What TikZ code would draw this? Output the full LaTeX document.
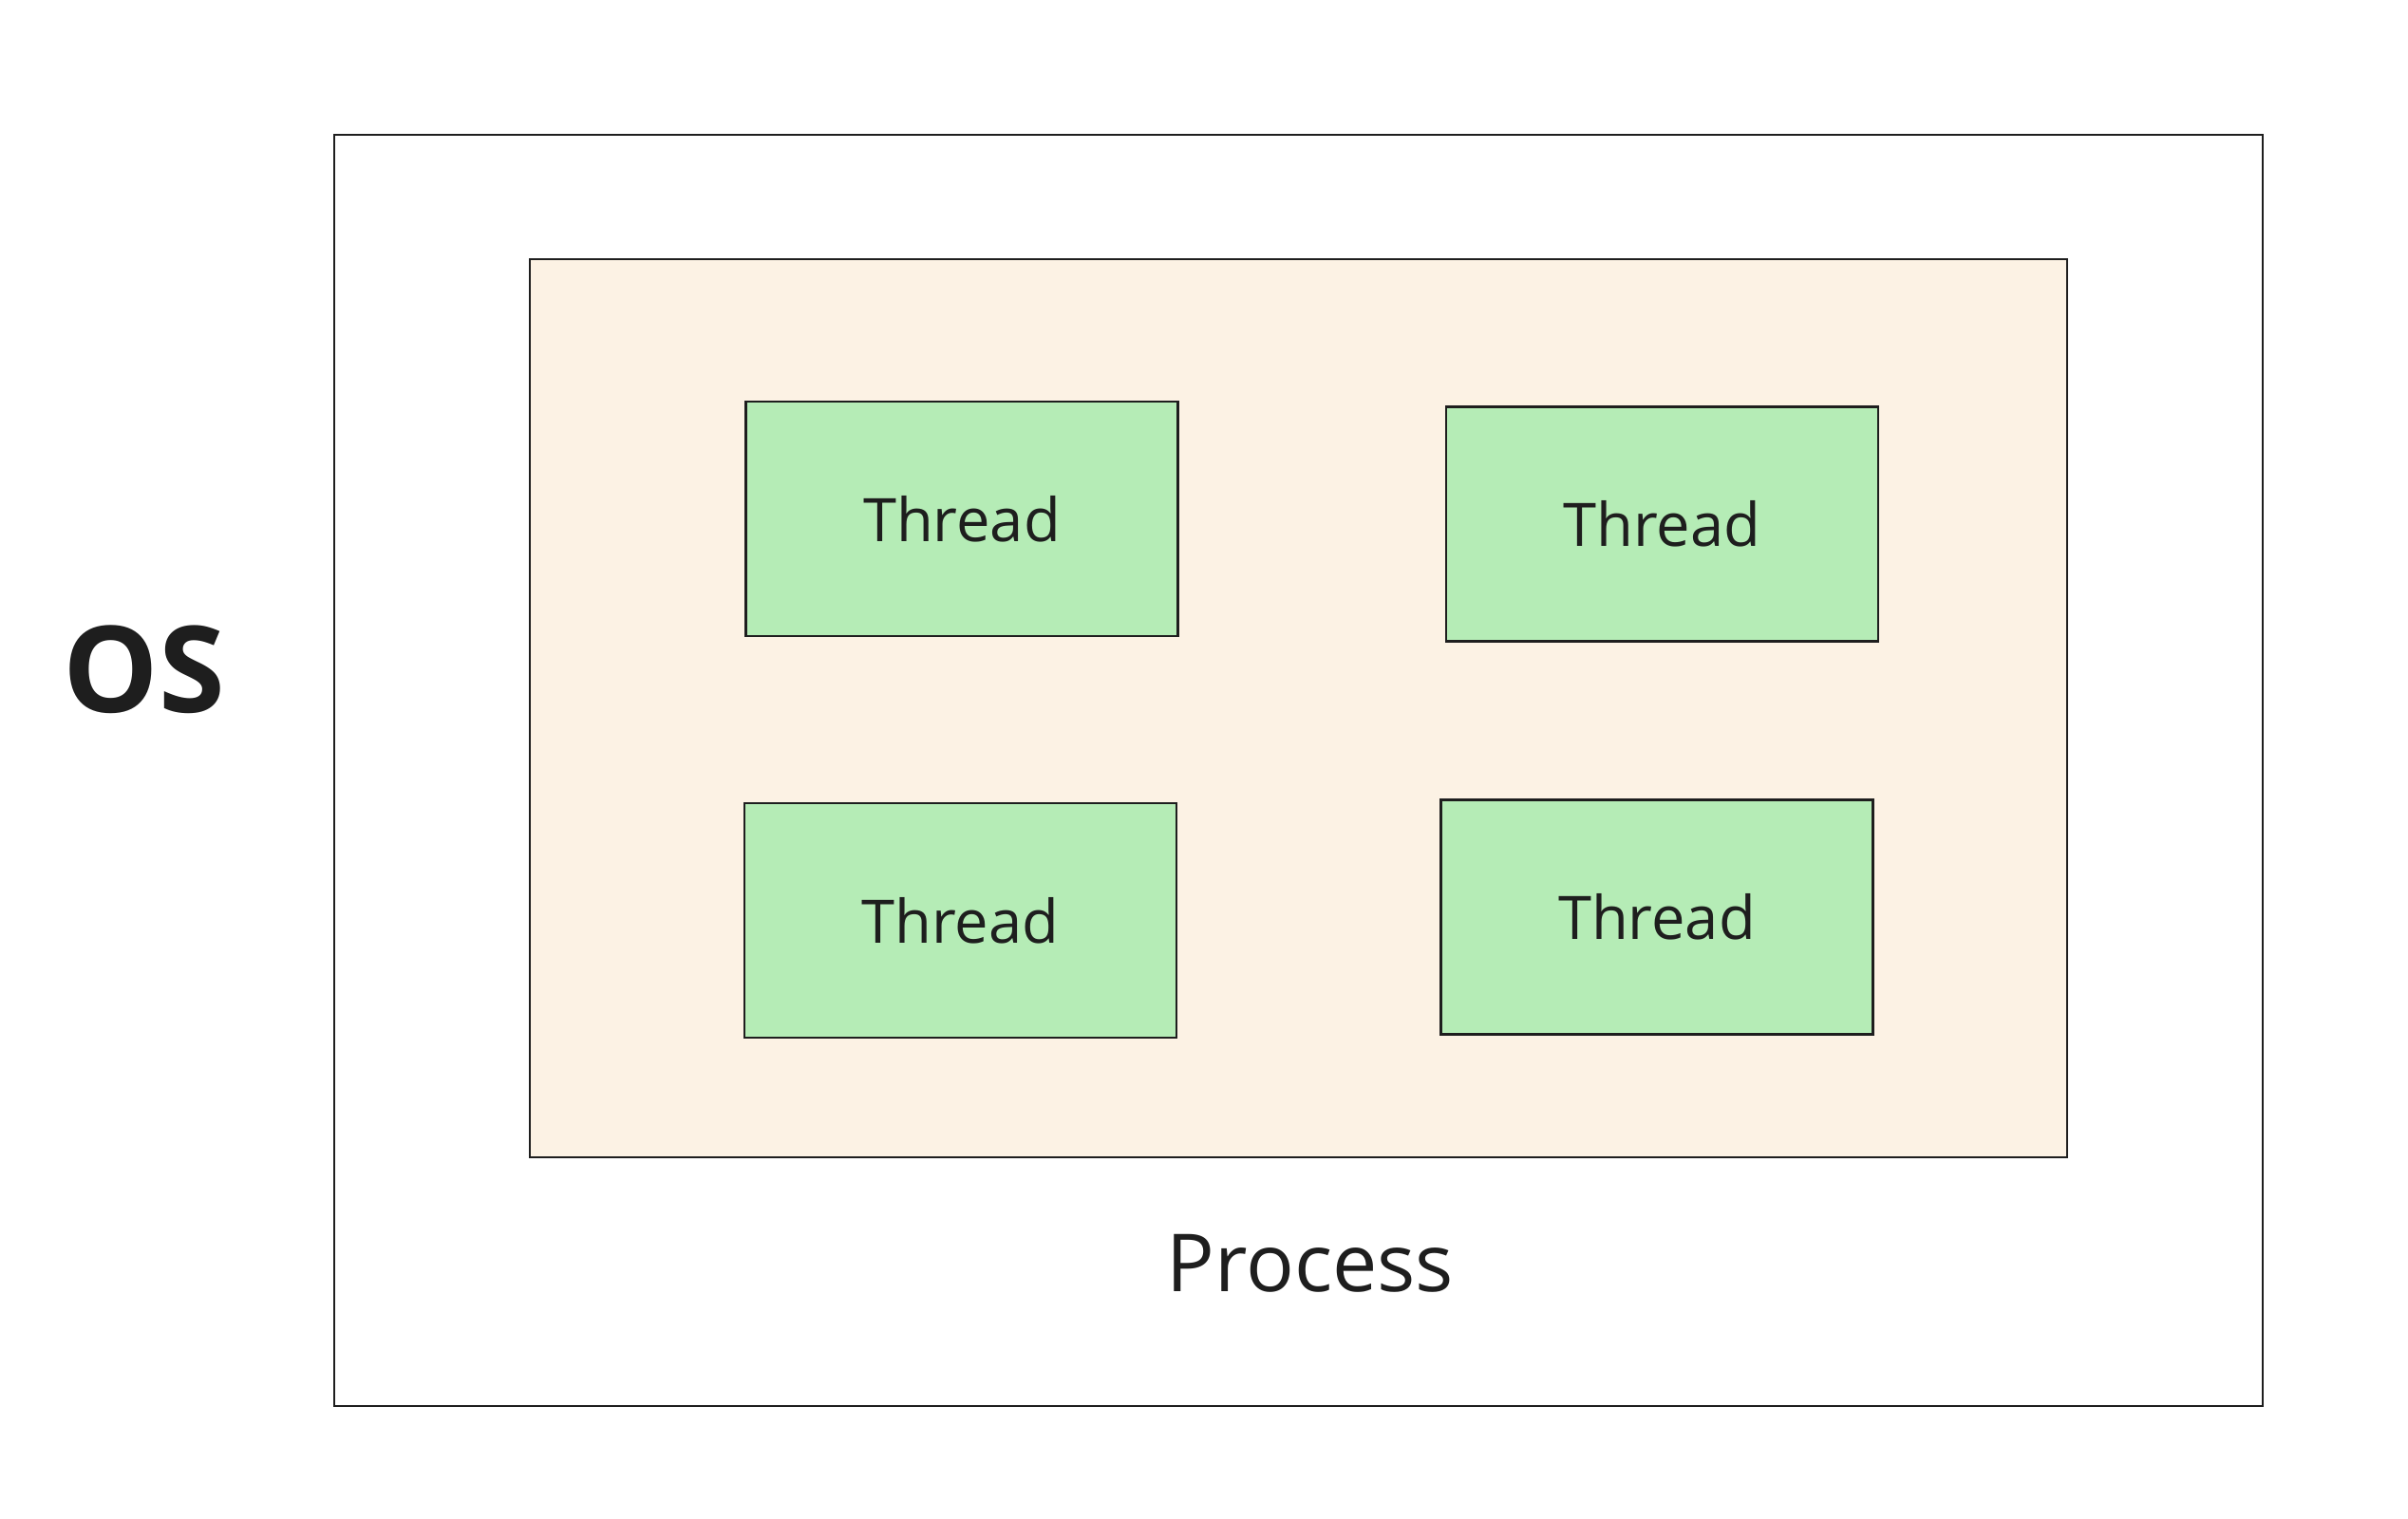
\documentclass[tikz,border=0pt]{standalone}
\usepackage{fontspec}
\setmainfont{Open Sans}
\definecolor{ink}{HTML}{1E1E1E}
\definecolor{threadgreen}{HTML}{B5ECB6}
\definecolor{processbg}{HTML}{FCF2E4}
\begin{document}
\begin{tikzpicture}
  \tikzstyle{box}=[draw=ink, line width=0.6pt, inner sep=0pt, outer sep=0pt]
  \tikzstyle{thread}=[box, fill=threadgreen, minimum width=4.55cm, minimum height=2.47cm,
    text=ink, font=\fontsize{18}{20}\selectfont]

  \useasboundingbox (0, 0) rectangle (25.36, 16);

  \node[box, minimum width=20.31cm, minimum height=13.39cm] (os) at (13.675, 7.885) {};
  \node[box, fill=processbg, minimum width=16.19cm, minimum height=9.46cm] (process) at (13.675, 8.54) {};

  \node[thread] (t1) at (10.13,  10.535) {Thread};
  \node[thread] (t2) at (17.505, 10.48)  {Thread};
  \node[thread] (t3) at (10.115, 6.305)  {Thread};
  \node[thread] (t4) at (17.45,  6.34)   {Thread};

  \node[text=ink, font=\fontsize{36}{40}\selectfont\bfseries] (oslabel) at (1.52, 8.95) {OS};
  \node[text=ink, font=\fontsize{24}{28}\selectfont] (processlabel) at (13.80, 2.69) {Process};

\end{tikzpicture}
\end{document}
